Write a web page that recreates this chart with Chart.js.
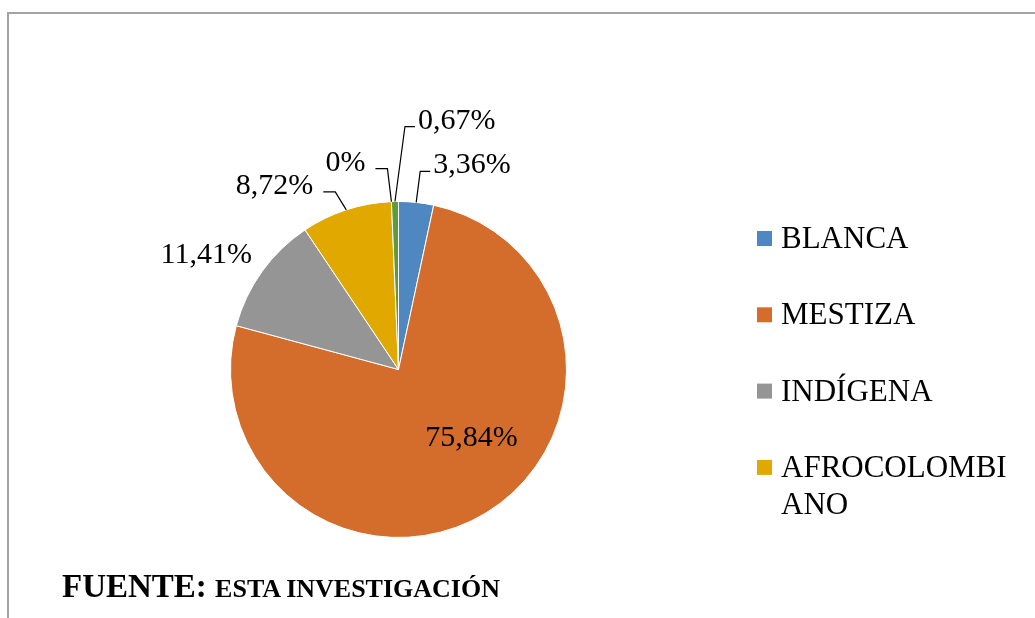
<!DOCTYPE html>
<html>
<head>
<meta charset="utf-8">
<script src="https://cdn.jsdelivr.net/npm/chart.js@4.4.0/dist/chart.umd.min.js"></script>
<style>
html,body{margin:0;padding:0;background:#fff;}
#wrap{position:relative;width:1035px;height:618px;overflow:hidden;background:#fff;}
#frame{position:absolute;left:7px;top:12px;width:1100px;height:700px;border-top:2px solid #a3a3a3;border-left:2px solid #a3a3a3;}
canvas{position:absolute;left:0;top:0;}
#fuente{position:absolute;left:62px;top:570px;font-family:"Liberation Serif","Times New Roman",serif;font-weight:bold;font-size:33px;line-height:33px;color:#000;white-space:nowrap;}
#fuente .sc{font-size:26px;}
</style>
</head>
<body>
<div id="wrap">
  <div id="frame"></div>
  <canvas id="c" width="1035" height="618"></canvas>
  <div id="fuente">FUENTE: <span class="sc">ESTA INVESTIGACIÓN</span></div>
</div>
<script>
// ---- data ----
const categories = ['BLANCA', 'MESTIZA', 'INDÍGENA', 'AFROCOLOMBIANO', 'ROM', 'RAIZAL'];
const percentages = [3.36, 75.84, 11.41, 8.72, 0, 0.67];
const legendShown = 4;

// ---- styles ----
const sliceColors = ['#4F87C0', '#D46D2B', '#959595', '#E1A900', '#2F5B8F', '#5E9A3E'];
const fontFamily = '"Liberation Serif", "Times New Roman", serif';
// label placement relative to the slice edge point (or centre when inside)
const labelPlacement = [
  {dx: 17,  dy: -29, align: 'left',  leader: true},
  {dx: 73,  dy: 76,  align: 'center', inside: true},
  {dx: -10, dy: -9,  align: 'right', leader: false},
  {dx: -33, dy: -16, align: 'right', leader: true},
  {dx: -26, dy: -31, align: 'right', leader: true},
  {dx: 23,  dy: -73, align: 'left',  leader: true}
];

function fmt(v) {
  return v === 0 ? '0%' : v.toFixed(2).replace('.', ',') + '%';
}

const labelPlugin = {
  id: 'pieLabels',
  afterDatasetsDraw(chart) {
    const ctx = chart.ctx;
    const meta = chart.getDatasetMeta(0);
    ctx.save();
    ctx.font = '30px ' + fontFamily;
    ctx.fillStyle = '#000';
    ctx.textBaseline = 'alphabetic';
    meta.data.forEach((arc, i) => {
      const p = arc.getProps(['x', 'y', 'startAngle', 'endAngle', 'outerRadius'], true);
      const mid = (p.startAngle + p.endAngle) / 2;
      const ex = p.x + Math.cos(mid) * p.outerRadius;
      const ey = p.y + Math.sin(mid) * p.outerRadius;
      const pl = labelPlacement[i];
      const txt = fmt(percentages[i]);
      const w = ctx.measureText(txt).width;
      let tx, ty;
      if (pl.inside) { tx = p.x + pl.dx; ty = p.y + pl.dy; }
      else { tx = ex + pl.dx; ty = ey + pl.dy; }
      ctx.textAlign = pl.align;
      ctx.fillText(txt, tx, ty);
      if (pl.leader) {
        ctx.beginPath();
        ctx.strokeStyle = '#000';
        ctx.lineWidth = 1.2;
        const ly = ty - 2;
        if (pl.align === 'left') {
          ctx.moveTo(tx - 3, ly);
          ctx.lineTo(tx - 13, ly);
        } else {
          ctx.moveTo(tx + 10, ly);
          ctx.lineTo(tx + 22, ly);
        }
        ctx.lineTo(ex, ey);
        ctx.stroke();
      }
    });
    ctx.restore();
  }
};

const legendPlugin = {
  id: 'sideLegend',
  afterDraw(chart) {
    const ctx = chart.ctx;
    ctx.save();
    ctx.font = '31px ' + fontFamily;
    ctx.fillStyle = '#000';
    ctx.textBaseline = 'alphabetic';
    ctx.textAlign = 'left';
    const boxX = 757, textX = 781, firstBase = 248, step = 76.3, lineH = 37, maxW = 240;
    for (let i = 0; i < legendShown; i++) {
      const base = firstBase + i * step;
      ctx.fillStyle = sliceColors[i];
      ctx.fillRect(boxX, base - 17, 15, 15);
      ctx.fillStyle = '#000';
      // character wrap
      const label = categories[i];
      const lines = [];
      let cur = '';
      for (const ch of label) {
        if (ctx.measureText(cur + ch).width > maxW && cur) { lines.push(cur); cur = ch; }
        else cur += ch;
      }
      lines.push(cur);
      lines.forEach((ln, k) => ctx.fillText(ln, textX, base + k * lineH));
    }
    ctx.restore();
  }
};

new Chart(document.getElementById('c'), {
  type: 'pie',
  data: {
    labels: categories,
    datasets: [{
      data: percentages,
      backgroundColor: sliceColors,
      borderColor: '#ffffff',
      borderWidth: 1
    }]
  },
  options: {
    responsive: false,
    animation: false,
    radius: 168,
    layout: {padding: {left: 230, right: 468, top: 201, bottom: 80}},
    plugins: {
      legend: {display: false},
      tooltip: {enabled: false},
      title: {display: false}
    }
  },
  plugins: [labelPlugin, legendPlugin]
});
</script>
</body>
</html>
